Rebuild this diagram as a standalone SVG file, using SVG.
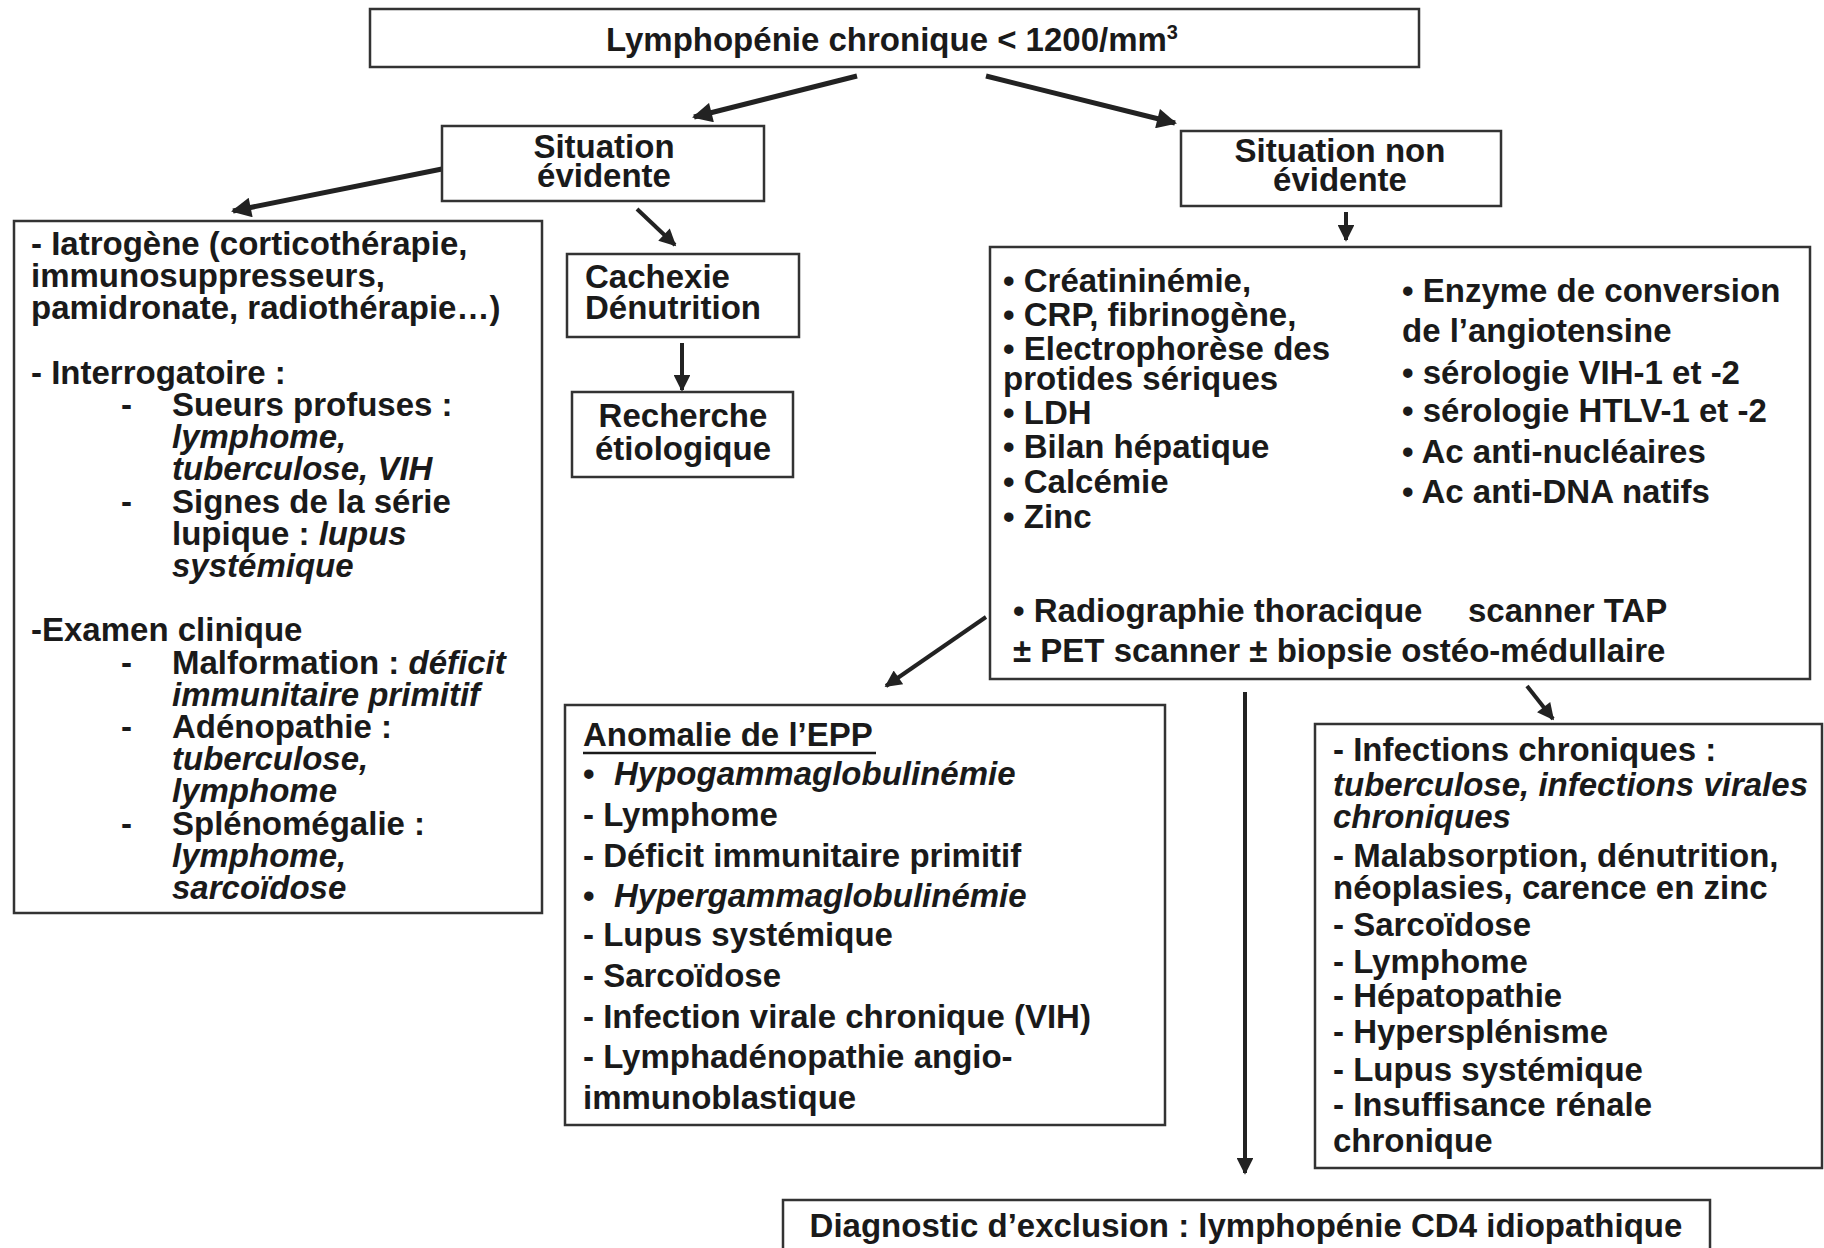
<svg xmlns="http://www.w3.org/2000/svg" width="1824" height="1248" viewBox="0 0 1824 1248">
<style>
text{font-family:"Liberation Sans",Arial,sans-serif;font-weight:bold;font-size:33px;fill:#1a1a1a}
.c{text-anchor:middle}
.i{font-style:italic}
.box{fill:#fff;stroke:#333;stroke-width:2.5}
.ar{stroke:#222;stroke-width:5;fill:none;marker-end:url(#ah)}
.ar2{stroke:#222;stroke-width:4;fill:none;marker-end:url(#ah2)}
</style>
<defs>
<marker id="ah" viewBox="0 0 10 10" refX="9" refY="5" markerWidth="4.4" markerHeight="4" orient="auto" markerUnits="strokeWidth">
<path d="M0,0 L10,5 L0,10 z" fill="#222"/>
</marker>
<marker id="ah2" viewBox="0 0 10 10" refX="9" refY="5" markerWidth="4.6" markerHeight="4.2" orient="auto" markerUnits="strokeWidth">
<path d="M0,0 L10,5 L0,10 z" fill="#222"/>
</marker>
</defs>
<rect width="1824" height="1248" fill="#fff"/>

<g id="connectors">
<line class="ar" x1="857" y1="76" x2="694" y2="117"/>
<line class="ar" x1="986" y1="76" x2="1175" y2="123"/>
<line class="ar" x1="442" y1="169" x2="233" y2="211"/>
<line class="ar2" x1="637" y1="209" x2="675" y2="245"/>
<line class="ar2" x1="682" y1="343" x2="682" y2="390"/>
<line class="ar2" x1="1346" y1="212" x2="1346" y2="240"/>
<line class="ar2" x1="986" y1="617" x2="886" y2="686"/>
<line class="ar2" x1="1245" y1="692" x2="1245" y2="1173"/>
<line class="ar2" x1="1527" y1="686" x2="1553" y2="719"/>
</g>

<g id="top">
<rect class="box" x="370" y="9" width="1049" height="58"/>
<text class="c" x="892" y="51">Lymphopénie chronique &lt; 1200/mm<tspan font-size="20" dy="-12">3</tspan></text>
</g>

<g id="sit-evidente">
<rect class="box" x="442" y="126" width="322" height="75"/>
<text class="c" x="604" y="158">Situation</text>
<text class="c" x="604" y="187">évidente</text>
</g>

<g id="sit-non-evidente">
<rect class="box" x="1181" y="131" width="320" height="75"/>
<text class="c" x="1340" y="162">Situation non</text>
<text class="c" x="1340" y="191">évidente</text>
</g>

<g id="left-box">
<rect class="box" x="14" y="221" width="528" height="692"/>
<text x="31" y="255">- Iatrogène (corticothérapie,</text>
<text x="31" y="287">immunosuppresseurs,</text>
<text x="31" y="319">pamidronate, radiothérapie…)</text>
<text x="31" y="384">- Interrogatoire :</text>
<text x="121" y="416">-</text><text x="172" y="416">Sueurs profuses :</text>
<text x="172" y="448" class="i">lymphome,</text>
<text x="172" y="480" class="i">tuberculose, VIH</text>
<text x="121" y="513">-</text><text x="172" y="513">Signes de la série</text>
<text x="172" y="545">lupique : <tspan class="i">lupus</tspan></text>
<text x="172" y="577" class="i">systémique</text>
<text x="31" y="641">-Examen clinique</text>
<text x="121" y="674">-</text><text x="172" y="674">Malformation : <tspan class="i">déficit</tspan></text>
<text x="172" y="706" class="i">immunitaire primitif</text>
<text x="121" y="738">-</text><text x="172" y="738">Adénopathie :</text>
<text x="172" y="770" class="i">tuberculose,</text>
<text x="172" y="802" class="i">lymphome</text>
<text x="121" y="835">-</text><text x="172" y="835">Splénomégalie :</text>
<text x="172" y="867" class="i">lymphome,</text>
<text x="172" y="899" class="i">sarcoïdose</text>
</g>

<g id="cachexie">
<rect class="box" x="567" y="254" width="232" height="83"/>
<text x="585" y="288">Cachexie</text>
<text x="585" y="319">Dénutrition</text>
</g>

<g id="recherche">
<rect class="box" x="572" y="392" width="221" height="85"/>
<text class="c" x="683" y="427">Recherche</text>
<text class="c" x="683" y="460">étiologique</text>
</g>

<g id="examens">
<rect class="box" x="990" y="247" width="820" height="432"/>
<text x="1003" y="292">• Créatininémie,</text>
<text x="1003" y="326">• CRP, fibrinogène,</text>
<text x="1003" y="360">• Electrophorèse des</text>
<text x="1003" y="390">protides sériques</text>
<text x="1003" y="424">• LDH</text>
<text x="1003" y="458">• Bilan hépatique</text>
<text x="1003" y="493">• Calcémie</text>
<text x="1003" y="528">• Zinc</text>
<text x="1402" y="302">• Enzyme de conversion</text>
<text x="1402" y="342">de l’angiotensine</text>
<text x="1402" y="384">• sérologie VIH-1 et -2</text>
<text x="1402" y="422">• sérologie HTLV-1 et -2</text>
<text x="1402" y="463">• Ac anti-nucléaires</text>
<text x="1402" y="503">• Ac anti-DNA natifs</text>
<text x="1013" y="622">• Radiographie thoracique</text>
<text x="1468" y="622">scanner TAP</text>
<text x="1013" y="662">± PET scanner ± biopsie ostéo-médullaire</text>
</g>

<g id="anomalie-epp">
<rect class="box" x="565" y="705" width="600" height="420"/>
<text x="583" y="746">Anomalie de l’EPP</text>
<line x1="583" y1="753" x2="876" y2="753" stroke="#1a1a1a" stroke-width="2.5"/>
<text x="583" y="785">•</text><text x="614" y="785" class="i">Hypogammaglobulinémie</text>
<text x="583" y="826">- Lymphome</text>
<text x="583" y="867">- Déficit immunitaire primitif</text>
<text x="583" y="907">•</text><text x="614" y="907" class="i">Hypergammaglobulinémie</text>
<text x="583" y="946">- Lupus systémique</text>
<text x="583" y="987">- Sarcoïdose</text>
<text x="583" y="1028">- Infection virale chronique (VIH)</text>
<text x="583" y="1068">- Lymphadénopathie angio-</text>
<text x="583" y="1109">immunoblastique</text>
</g>

<g id="infections">
<rect class="box" x="1315" y="724" width="507" height="444"/>
<text x="1333" y="761">- Infections chroniques :</text>
<text x="1333" y="796" class="i">tuberculose, infections virales</text>
<text x="1333" y="828" class="i">chroniques</text>
<text x="1333" y="867">- Malabsorption, dénutrition,</text>
<text x="1333" y="899">néoplasies, carence en zinc</text>
<text x="1333" y="936">- Sarcoïdose</text>
<text x="1333" y="973">- Lymphome</text>
<text x="1333" y="1007">- Hépatopathie</text>
<text x="1333" y="1043">- Hypersplénisme</text>
<text x="1333" y="1081">- Lupus systémique</text>
<text x="1333" y="1116">- Insuffisance rénale</text>
<text x="1333" y="1152">chronique</text>
</g>

<g id="diagnostic">
<rect class="box" x="783" y="1200" width="927" height="70"/>
<text class="c" x="1246" y="1237">Diagnostic d’exclusion : lymphopénie CD4 idiopathique</text>
</g>
</svg>
